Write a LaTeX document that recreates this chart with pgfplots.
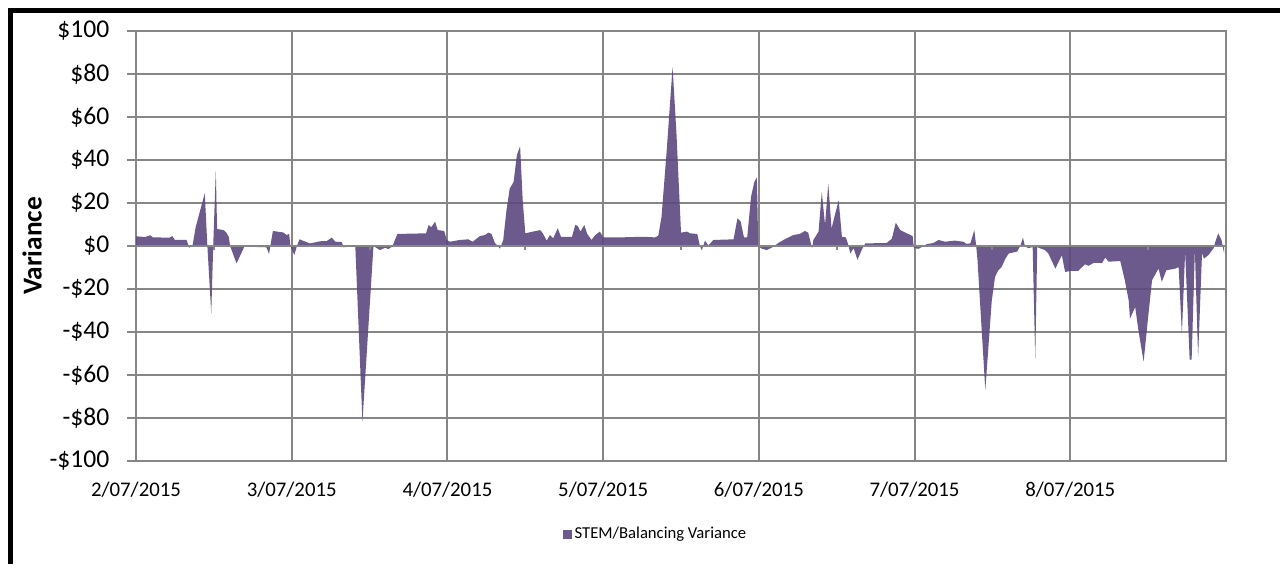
\documentclass[border=0pt]{standalone}
\usepackage{fontspec}
\setmainfont{Carlito}
\usepackage{pgfplots}
\pgfplotsset{compat=1.18}
\definecolor{gridc}{RGB}{134,134,134}
\definecolor{areac}{RGB}{91,72,126}
\begin{document}
\begin{tikzpicture}[x=1pt,y=1pt]
\useasboundingbox (0,0) rectangle (960,423);
\draw[line width=3.75pt] (7.5,0) -- (7.5,414.9) -- (960,414.9);
\begin{axis}[
  at={(102pt,77.25pt)}, anchor=south west,
  scale only axis, width=817.5pt, height=322.5pt,
  xmin=0, xmax=168, ymin=-100, ymax=100,
  xtick={0,24,48,72,96,120,144},
  xticklabels={2/07/2015,3/07/2015,4/07/2015,5/07/2015,6/07/2015,7/07/2015,8/07/2015},
  ytick={-100,-80,-60,-40,-20,0,20,40,60,80,100},
  yticklabels={-\$100,-\$80,-\$60,-\$40,-\$20,\$0,\$20,\$40,\$60,\$80,\$100},
  xmajorgrids, ymajorgrids,
  grid style={gridc, line width=1.5pt},
  axis line style={gridc, line width=1.5pt},
  x tick style={draw=none},
  y tick style={gridc, line width=1.5pt},
  ytick pos=left, tick align=outside, major tick length=6.75pt,
  yticklabel style={font=\fontsize{19.2}{23}\selectfont, inner sep=0pt, xshift=-13pt},
  xticklabel style={font=\fontsize{15.6}{19}\selectfont, inner sep=0pt, yshift=-9pt},
  ylabel={Variance},
  ylabel style={font=\fontsize{20.5}{24}\selectfont\bfseries, at={(rel axis cs:-0.0954,0.5)}, anchor=center, inner sep=0pt},
  legend style={draw=none, fill=none, at={(rel axis cs:0.477,-0.17)}, anchor=center, font=\fontsize{12.5}{15}\selectfont, inner sep=0pt},
  legend image code/.code={\fill[areac] (0pt,-3.4pt) rectangle (6.75pt,3.4pt);},
]
\addplot[fill=areac, fill opacity=0.9, draw=none] coordinates {
(0,4.5) (1.4,4.2) (2.2,5.0) (2.6,4.0) (5.2,3.9) (5.6,4.6) (6.0,2.8) (7.8,2.8) (8.2,-0.8) (8.7,0)
(9.2,8.8) (10.6,24.5) (11.0,0) (11.6,-31.3) (11.9,0) (12.3,35) (12.5,7.9) (13.5,7.4) (14.0,5.9) (14.3,4.2)
(14.5,0) (15.5,-8.1) (16.7,-0.3) (20.1,-0.6) (20.5,-3.7) (21.1,7.0) (22.7,6.3) (23.2,5.1) (23.6,5.6) (23.8,0)
(24.4,-4.2) (24.8,0) (25.2,3.1) (26.8,1.2) (28.4,2.2) (29.4,2.3) (30.2,3.9) (30.7,2.0) (31.7,1.9) (32.0,-0.6)
(32.7,-0.3) (33.4,0.3) (33.8,0) (34.9,-81.7) (36.6,0) (37.6,-1.9) (38.4,-0.8) (38.9,-1.4) (39.5,-0.3) (39.9,2.8)
(40.3,5.6) (44.7,5.9) (45.1,9.8) (45.5,8.7) (46.1,11.3) (46.5,7.4) (47.5,7.0) (47.9,2.8) (48.4,2.0) (49.9,2.8)
(51.2,3.1) (51.9,2.0) (53.0,4.6) (53.8,5.1) (54.3,6.2) (54.8,5.6) (55.3,1.5) (56.1,-1.2) (56.6,2.8) (57.1,16.6)
(57.6,26.7) (58.2,29.8) (58.7,42.2) (59.2,46.4) (59.6,21.3) (60.0,5.9) (61.2,6.7) (62.3,7.4) (62.7,5.9) (63.3,2.5)
(63.8,5.1) (64.3,3.6) (65.0,8.2) (65.5,4.3) (67.2,4.3) (67.7,9.8) (68.1,9.3) (68.5,6.7) (69.1,9.8) (69.5,5.9)
(70.2,2.8) (70.8,5.1) (71.5,6.7) (72.0,4.0) (74.6,4.0) (78.2,4.3) (80.0,4.0) (80.5,4.8) (81.0,13.6) (81.8,44.5)
(82.7,83.3) (83.3,52.3) (84.0,6.2) (84.9,6.7) (85.4,5.9) (86.5,5.6) (86.9,0.3) (87.2,-2.0) (87.7,2.5) (88.2,0.3)
(89.0,2.8) (92.1,3.1) (92.7,12.9) (93.2,11.3) (93.7,4.0) (94.2,4.0) (94.8,23) (95.3,29.8) (95.7,31.9) (95.9,0)
(96.4,-1.2) (97.2,-1.9) (98.2,-0.4) (99.0,1.4) (99.8,2.8) (101.3,5.1) (102.3,5.6) (103.1,7.0) (103.6,6.2) (104.2,-1.0)
(104.4,2.8) (105.2,6.7) (105.7,25.1) (106.2,9.8) (106.7,29) (107.2,8.2) (108.3,21.3) (108.8,4.3) (109.4,4.0) (109.8,0.4)
(110.1,-3.5) (110.6,-1.0) (111.2,-6.4) (111.9,-1.5) (112.4,1.2) (115.7,1.4) (116.5,3.4) (117.1,10.8) (117.8,7.4) (118.8,5.9)
(119.7,4.6) (119.9,-1.0) (120.6,-1.3) (121.4,0) (121.9,0.9) (122.9,1.4) (123.7,2.8) (124.7,2.0) (126.2,2.5) (127.5,2.0)
(128.0,1.0) (128.6,1.2) (129.2,7.4) (129.5,0) (129.7,-6.6) (130.9,-67) (131.9,-25.3) (132.4,-14.4) (132.9,-11.3) (133.4,-9.8)
(134.0,-5.9) (134.5,-3.5) (135.8,-2.6) (136.3,0) (136.7,3.9) (137.0,0) (137.5,-1.0) (138.2,-0.5) (138.6,-52.4) (138.9,-0.5)
(139.3,-1.0) (140.1,-1.9) (140.6,-3.4) (141.7,-10.5) (142.7,-4.3) (143.2,-12.1) (144.0,-11.6) (145.2,-11.6) (145.8,-9.8) (146.3,-8.5)
(146.8,-9.2) (147.6,-7.9) (148.9,-7.9) (149.4,-5.4) (149.9,-7.3) (151.7,-7.0) (152.4,-15.9) (153.0,-25.3) (153.2,-33.8) (154.0,-28.4)
(154.5,-39.2) (155.3,-53.8) (156.0,-33.0) (156.6,-15.9) (157.1,-13.2) (157.6,-10.5) (158.1,-16.7) (158.8,-11.3) (160.2,-10.5) (160.7,-9.8)
(161.2,-40.8) (161.7,-2.6) (162.4,-52.9) (162.7,-52.9) (163.2,-1.9) (163.7,-51.6) (164.3,-3.4) (164.6,-5.9) (165.3,-4.2) (166.1,-1.0)
(166.3,1.5) (166.8,5.9) (167.3,2.8) (167.7,-3.4)
} \closedcycle;
\addlegendentry{STEM/Balancing Variance}
\draw[gridc, line width=1.5pt] (axis cs:0,0) -- (axis cs:168,0);
\pgfplotsinvokeforeach{12,36,60,84,108,132,156}{
  \draw[gridc, line width=1.5pt] (axis cs:#1,0) -- ([yshift=-3pt]axis cs:#1,0);
}
\end{axis}
\end{tikzpicture}
\end{document}
